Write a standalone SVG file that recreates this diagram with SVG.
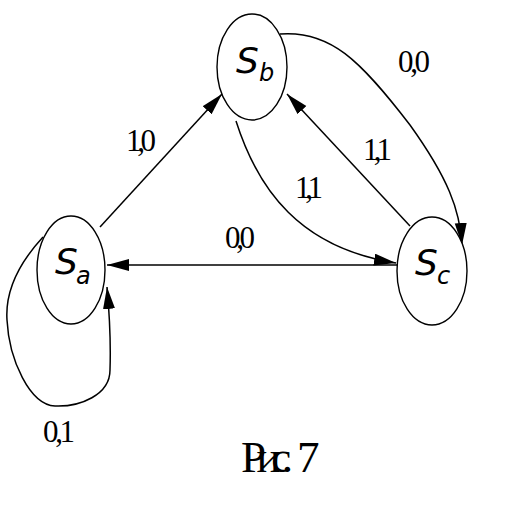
<svg xmlns="http://www.w3.org/2000/svg" width="512" height="512" viewBox="0 0 512 512">
<style>
.node{fill:#fff;stroke:#000;stroke-width:1.4}
.edge{fill:none;stroke:#000;stroke-width:1.5}
.s{font-family:"DejaVu Sans",sans-serif;font-style:italic;font-size:36px;fill:#000}
.sub{font-family:"DejaVu Sans",sans-serif;font-style:italic;font-size:24px;fill:#000}
.lbl{font-family:"Liberation Serif",serif;font-size:31px;fill:#000}
.cap{font-family:"Liberation Serif",serif;font-size:45px;fill:#000}
</style>
<defs>
<marker id="arr" markerUnits="userSpaceOnUse" markerWidth="24" markerHeight="14" refX="22" refY="6" orient="auto">
<path d="M0,0 L22,6 L0,12 z" fill="#000"/>
</marker>
</defs>
<rect width="512" height="512" fill="#fff"/>
<g id="connectors">
<path class="edge" d="M100,227 L222,94" marker-end="url(#arr)"/>
<path class="edge" d="M410,226 L287,94" marker-end="url(#arr)"/>
<path class="edge" d="M397,265 L107,265" marker-end="url(#arr)"/>
<path class="edge" d="M236,121 C258,190 300,248 396,263" marker-end="url(#arr)"/>
<path class="edge" d="M280,34 C330,30 360,60 410,125 C448,178 460,210 462,245" marker-end="url(#arr)"/>
<path class="edge" d="M43,237 C20,262 5,290 7,320 C9,360 30,405 55,406 C80,407 110,395 110,370 C111,340 110,320 107,287" marker-end="url(#arr)"/>
</g>
<g id="Sa">
<ellipse class="node" cx="71" cy="270" rx="34" ry="54"/>
<text class="s" x="55" y="274">S</text>
<text class="sub" x="76" y="284">a</text>
</g>
<g id="Sb">
<ellipse class="node" cx="252" cy="67" rx="35" ry="53"/>
<text class="s" x="236" y="73">S</text>
<text class="sub" x="259" y="81">b</text>
</g>
<g id="Sc">
<ellipse class="node" cx="432" cy="271" rx="35" ry="54"/>
<text class="s" x="415" y="275">S</text>
<text class="sub" x="437" y="284">c</text>
</g>
<g id="labels">
<text class="lbl" x="126" y="151" textLength="30" lengthAdjust="spacing">1,0</text>
<text class="lbl" x="398" y="72" textLength="32" lengthAdjust="spacing">0,0</text>
<text class="lbl" x="363" y="160" textLength="29" lengthAdjust="spacing">1,1</text>
<text class="lbl" x="295" y="198" textLength="28" lengthAdjust="spacing">1,1</text>
<text class="lbl" x="225" y="248" textLength="30" lengthAdjust="spacing">0,0</text>
<text class="lbl" x="43" y="442" textLength="32" lengthAdjust="spacing">0,1</text>
<text class="cap" x="241" y="472"><tspan textLength="52" lengthAdjust="spacing">Рис.</tspan><tspan x="297">7</tspan></text>
</g>
</svg>
